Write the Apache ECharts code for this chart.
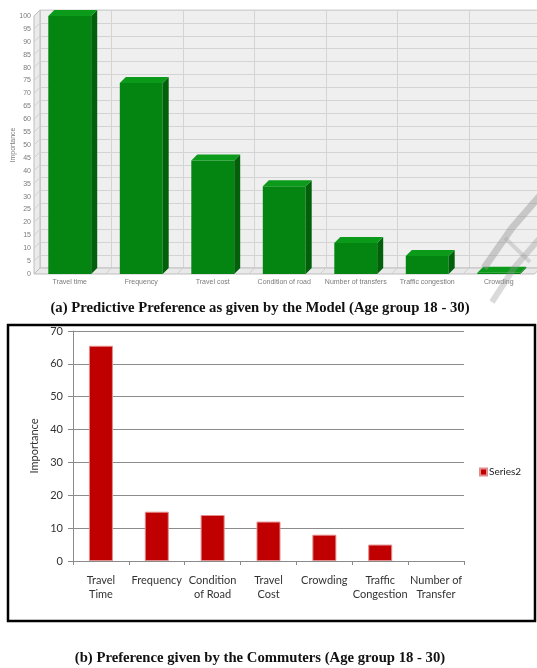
<!DOCTYPE html>
<html>
<head>
<meta charset="utf-8">
<script src="https://cdn.jsdelivr.net/npm/echarts@6/dist/echarts.min.js"></script>
<style>
html,body{margin:0;padding:0;background:#fff}
#chart{width:537px;height:668px}
</style>
</head>
<body>
<div id="chart"></div>
<script>
// (a) importance predicted by the model, age group 18-30
const modelCategories = ['Travel time', 'Frequency', 'Travel cost', 'Condition of road',
  'Number of transfers', 'Traffic congestion', 'Crowding'];
const modelValues = [100, 74, 44, 34, 12, 7, 0.5];
const modelAxisMin = 0, modelAxisMax = 100, modelAxisStep = 5;

// (b) importance stated by the commuters, age group 18-30
const commuterCategories = ['Travel\nTime', 'Frequency', 'Condition\nof Road', 'Travel\nCost',
  'Crowding', 'Traffic\nCongestion', 'Number of\nTransfer'];
const commuterValues = [65.5, 15, 14, 12, 8, 5, 0];
const commuterAxisMin = 0, commuterAxisMax = 70, commuterAxisStep = 10;

const captionA = '(a) Predictive Preference as given by the Model (Age group 18 - 30)';
const captionB = '(b) Preference given by the Commuters (Age group 18 - 30)';

const DEPTH = 6;           // 3D depth offset of the top chart, px
const BAR_FRAC = 0.6;      // bar front width relative to the category band

const chart = echarts.init(document.getElementById('chart'), null, { renderer: 'canvas' });

// floor + left wall of the 3D box
function renderFrame(params, api) {
  const cs = params.coordSys;
  const x0 = cs.x, yb = cs.y + cs.height, yt = cs.y, w = cs.width;
  const line = '#bdbdbd';
  const children = [
    { type: 'polygon', shape: { points: [[x0, yb], [x0 + w, yb], [x0 + w + DEPTH, yb - DEPTH], [x0 + DEPTH, yb - DEPTH]] },
      style: { fill: '#e9e9e9', stroke: line, lineWidth: 1 } },
    { type: 'polygon', shape: { points: [[x0, yb], [x0, yt], [x0 + DEPTH, yt - DEPTH], [x0 + DEPTH, yb - DEPTH]] },
      style: { fill: '#ebebeb', stroke: line, lineWidth: 1 } }
  ];
  for (let t = modelAxisMin + modelAxisStep; t < modelAxisMax; t += modelAxisStep) {
    const y = api.coord([0, t])[1];
    children.push({ type: 'line', shape: { x1: x0, y1: y, x2: x0 + DEPTH, y2: y - DEPTH },
      style: { stroke: '#cfcfcf', lineWidth: 1 } });
  }
  const bw = w / modelCategories.length;
  for (let k = 1; k < modelCategories.length; k++) {
    const x = x0 + k * bw;
    children.push({ type: 'line', shape: { x1: x, y1: yb, x2: x + DEPTH, y2: yb - DEPTH },
      style: { stroke: '#cfcfcf', lineWidth: 1 } });
  }
  return { type: 'group', children };
}

// extruded bar: front face, top face, right side
function renderBar3D(params, api) {
  const i = api.value(0), v = api.value(1);
  const top = api.coord([i, v]);
  const base = api.coord([i, 0]);
  const bw = api.size([1, 0])[0] * BAR_FRAC;
  const xl = top[0] - bw / 2, xr = top[0] + bw / 2;
  const yt = top[1], yb = base[1];
  return {
    type: 'group',
    children: [
      { type: 'rect', shape: { x: xl, y: yt, width: bw, height: yb - yt }, style: { fill: '#048512' } },
      { type: 'polygon', shape: { points: [[xr, yt], [xr + DEPTH, yt - DEPTH], [xr + DEPTH, yb - DEPTH], [xr, yb]] },
        style: { fill: '#02600b' } },
      { type: 'polygon', shape: { points: [[xl, yt], [xr, yt], [xr + DEPTH, yt - DEPTH], [xl + DEPTH, yt - DEPTH]] },
        style: { fill: '#0c9a1b' } }
    ]
  };
}

const smallFont = { fontFamily: 'Liberation Sans, Arial, sans-serif', fontSize: 7, color: '#7a7a7a' };
const calFont = { fontFamily: 'Lato, sans-serif', fontSize: 11, color: '#333' };
const captionFont = 'bold 14.7px "Liberation Serif", "Times New Roman", serif';

const option = {
  backgroundColor: '#fff',
  animation: false,
  grid: [
    // front plane (labels + bars)
    { left: 34, top: 16, width: 500.5, height: 258, containLabel: false, outerBoundsMode: 'none' },
    // back wall with gridlines
    { left: 34 + DEPTH, top: 16 - DEPTH, width: 500.5, height: 258, show: true,
      backgroundColor: '#efefef', borderColor: '#cfcfcf', borderWidth: 1, z: 0,
      containLabel: false, outerBoundsMode: 'none' },
    // commuter chart
    { left: 73, top: 331, width: 391, height: 230, containLabel: false, outerBoundsMode: 'none' }
  ],
  xAxis: [
    { gridIndex: 0, type: 'category', data: modelCategories, boundaryGap: true,
      axisLine: { show: false }, axisTick: { show: false }, splitLine: { show: false },
      axisLabel: Object.assign({ interval: 0, margin: 5 }, smallFont) },
    { gridIndex: 1, type: 'category', data: modelCategories, boundaryGap: true,
      axisLine: { show: false }, axisTick: { show: false }, axisLabel: { show: false },
      splitLine: { show: true, interval: 0, lineStyle: { color: '#d4d4d4', width: 1 } } },
    { gridIndex: 2, type: 'category', data: commuterCategories, boundaryGap: true,
      axisLine: { lineStyle: { color: '#8a8a8a', width: 1 } },
      axisTick: { show: true, length: 4, interval: 0, lineStyle: { color: '#8a8a8a' } },
      axisLabel: Object.assign({ interval: 0, margin: 12, lineHeight: 14.5 }, calFont) }
  ],
  yAxis: [
    { gridIndex: 0, type: 'value', min: modelAxisMin, max: modelAxisMax, interval: modelAxisStep,
      name: 'Importance', nameLocation: 'middle', nameGap: 17, nameMoveOverlap: false,
      nameTextStyle: smallFont,
      axisLine: { show: false }, axisTick: { show: false }, splitLine: { show: false },
      axisLabel: Object.assign({ margin: 3 }, smallFont) },
    { gridIndex: 1, type: 'value', min: modelAxisMin, max: modelAxisMax, interval: modelAxisStep,
      axisLine: { show: false }, axisTick: { show: false }, axisLabel: { show: false },
      splitLine: { show: true, lineStyle: { color: '#d4d4d4', width: 1 } } },
    { gridIndex: 2, type: 'value', min: commuterAxisMin, max: commuterAxisMax, interval: commuterAxisStep,
      name: 'Importance', nameLocation: 'middle', nameGap: 33, nameMoveOverlap: false,
      nameTextStyle: calFont,
      axisLine: { show: true, lineStyle: { color: '#8a8a8a' } },
      axisTick: { show: true, length: 5, lineStyle: { color: '#8a8a8a' } },
      splitLine: { show: true, lineStyle: { color: '#8c8c8c', width: 1 } },
      axisLabel: Object.assign({ margin: 10 }, calFont) }
  ],
  legend: {
    data: ['Series2'], orient: 'vertical', left: 479, top: 467, padding: 0,
    icon: 'rect', itemWidth: 7, itemHeight: 7,
    textStyle: { fontFamily: 'Lato, sans-serif', fontSize: 10, color: '#222', padding: [0, 0, 0, -3] }
  },
  series: [
    { type: 'custom', xAxisIndex: 0, yAxisIndex: 0, renderItem: renderFrame, data: [[0, 0]],
      silent: true, z: 1 },
    { type: 'custom', name: 'Model', xAxisIndex: 0, yAxisIndex: 0, renderItem: renderBar3D,
      data: modelValues.map((v, i) => [i, v]), encode: { x: 0, y: 1 }, z: 2 },
    { type: 'bar', name: 'Series2', xAxisIndex: 2, yAxisIndex: 2, barWidth: 24,
      // zero-height bars get no outline
      data: commuterValues.map(v => v === 0 ? { value: v, itemStyle: { borderWidth: 0 } } : v),
      itemStyle: { color: '#c00000', borderColor: '#e48c8c', borderWidth: 1 } }
  ],
  graphic: [
    // watermark strokes
    { type: 'polyline', silent: true, z: 50,
      shape: { points: [[545, 190], [512, 228], [484, 268]] },
      style: { stroke: 'rgba(150,150,150,0.45)', lineWidth: 7, fill: null } },
    { type: 'polyline', silent: true, z: 50,
      shape: { points: [[545, 232], [514, 268], [492, 302]] },
      style: { stroke: 'rgba(150,150,150,0.35)', lineWidth: 6, fill: null } },
    { type: 'line', silent: true, z: 50,
      shape: { x1: 505, y1: 238, x2: 530, y2: 262 },
      style: { stroke: 'rgba(160,160,160,0.35)', lineWidth: 4 } },
    { type: 'text', x: 260, y: 308, z: 60,
      style: { text: captionA, font: captionFont, fill: '#111', textAlign: 'center', textVerticalAlign: 'middle' } },
    { type: 'rect', z: 60, silent: true,
      shape: { x: 8, y: 325, width: 527, height: 296 },
      style: { fill: null, stroke: '#000', lineWidth: 2.5 } },
    { type: 'text', x: 260, y: 658, z: 60,
      style: { text: captionB, font: captionFont, fill: '#111', textAlign: 'center', textVerticalAlign: 'middle' } }
  ]
};

chart.setOption(option);
</script>
</body>
</html>
